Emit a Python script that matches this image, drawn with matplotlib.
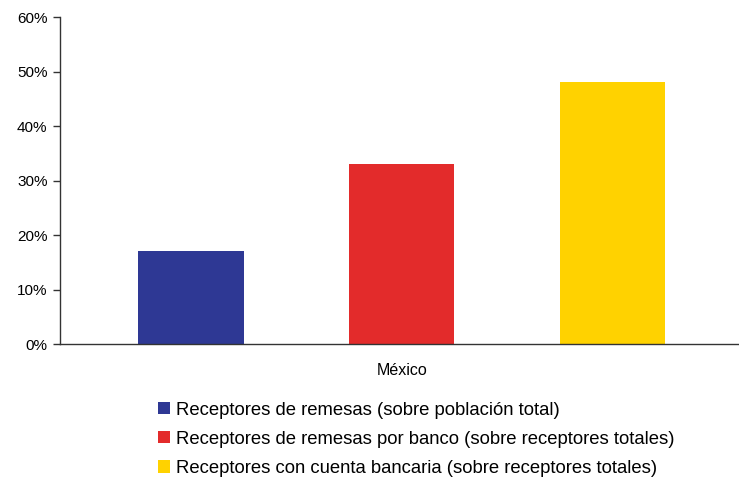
import matplotlib.pyplot as plt
from matplotlib.patches import Patch
from matplotlib.ticker import PercentFormatter

plt.rcParams['font.family'] = ['Liberation Sans', 'DejaVu Sans']

# datos
series = ['Receptores de remesas (sobre población total)',
          'Receptores de remesas por banco (sobre receptores totales)',
          'Receptores con cuenta bancaria (sobre receptores totales)']
valores = [17, 33, 48]
colores = ['#2E3894', '#E32B2B', '#FFD200']
pais = 'México'

fig = plt.figure(figsize=(7.39, 4.79), dpi=100)
ax = fig.add_axes([0.0812, 0.2818, 0.919, 0.6827])

posiciones = range(len(valores))
ax.bar(posiciones, valores, width=0.5, color=colores)

ax.set_ylim(0, 60)
ax.set_xlim(-0.62, 2.6)
ax.set_yticks(range(0, 61, 10))
ax.yaxis.set_major_formatter(PercentFormatter(decimals=0))
ax.set_xticks([1])
ax.set_xticklabels([pais], fontsize=11.5)
ax.tick_params(axis='x', length=0, pad=14)
ax.tick_params(axis='y', length=5, width=1, color='#333333', labelsize=11, pad=4)

for s in ['top', 'right']:
    ax.spines[s].set_visible(False)
for s in ['left', 'bottom']:
    ax.spines[s].set_color('#333333')
    ax.spines[s].set_linewidth(1)

# leyenda
handles = [Patch(facecolor=c, edgecolor='none') for c in colores]
fig.legend(handles, series, loc='upper left', bbox_to_anchor=(0.204, 0.177),
           frameon=False, fontsize=13.3, handlelength=0.65, handleheight=0.65,
           handletextpad=0.3, labelspacing=0.66, borderaxespad=0)

fig.savefig('out.png', dpi=100)
